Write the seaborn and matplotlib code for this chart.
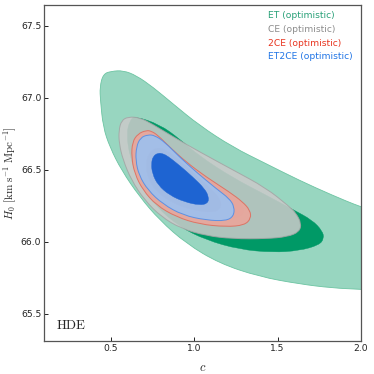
import numpy as np
import matplotlib
matplotlib.use("Agg")
import matplotlib.pyplot as plt
from matplotlib.path import Path
from matplotlib.patches import PathPatch
import seaborn as sns

# ---------------- data (contour outlines) ----------------
labels = ["ET (optimistic)", "CE (optimistic)", "2CE (optimistic)", "ET2CE (optimistic)"]
label_colors = ["#27a077", "#8c8c8c", "#e8341f", "#1f74e6"]

et95_c = [0.504, 0.454, 0.434, 0.438, 0.454, 0.494, 0.564, 0.673, 0.793, 0.952, 1.151, 1.39, 1.63, 1.829, 1.996, 2.3,
          2.3, 1.996, 1.829, 1.63, 1.43, 1.231, 1.032, 0.873, 0.753, 0.653, 0.574]
et95_h = [67.185, 67.166, 67.074, 66.98, 66.797, 66.658, 66.497, 66.312, 66.15, 65.988, 65.85, 65.758, 65.707, 65.679, 65.67, 65.65,
          66.12, 66.243, 66.323, 66.427, 66.543, 66.658, 66.808, 66.958, 67.074, 67.155, 67.19]

et68_c = [0.643, 0.793, 0.912, 1.032, 1.231, 1.43, 1.59, 1.709, 1.769, 1.779, 1.749, 1.63, 1.47, 1.271, 1.072, 0.912,
          0.773, 0.673, 0.614, 0.594, 0.614]
et68_h = [66.873, 66.815, 66.715, 66.595, 66.445, 66.325, 66.225, 66.15, 66.075, 66.023, 65.977, 65.938, 65.926, 65.947,
          66.012, 66.104, 66.243, 66.404, 66.589, 66.75, 66.843]

ce95_c = [0.604, 0.564, 0.548, 0.55, 0.574, 0.624, 0.703, 0.803, 0.922, 1.072, 1.231, 1.43, 1.56, 1.63, 1.643, 1.61,
          1.57, 1.43, 1.231, 1.032, 0.873, 0.753, 0.673]
ce95_h = [66.868, 66.843, 66.774, 66.681, 66.566, 66.427, 66.289, 66.173, 66.092, 66.042, 66.021, 66.021, 66.035, 66.069,
          66.127, 66.2, 66.245, 66.375, 66.5, 66.625, 66.73, 66.815, 66.863]

ce68_c = [0.763, 0.703, 0.683, 0.703, 0.763, 0.863, 0.992, 1.131, 1.251, 1.301, 1.291, 1.231, 1.112, 0.992, 0.892, 0.823]
ce68_h = [66.693, 66.647, 66.554, 66.45, 66.346, 66.254, 66.196, 66.162, 66.162, 66.196, 66.254, 66.312, 66.404, 66.508,
          66.612, 66.677]

ce2_95_c = [0.713, 0.663, 0.629, 0.624, 0.643, 0.693, 0.773, 0.892, 1.032, 1.191, 1.301, 1.341, 1.335, 1.291, 1.211,
            1.072, 0.952, 0.853, 0.783, 0.743]
ce2_95_h = [66.774, 66.751, 66.693, 66.589, 66.473, 66.358, 66.254, 66.173, 66.122, 66.104, 66.115, 66.162, 66.219,
            66.277, 66.346, 66.45, 66.554, 66.658, 66.739, 66.769]

ce2_68_c = [0.773, 0.723, 0.709, 0.723, 0.773, 0.873, 0.992, 1.112, 1.161, 1.161, 1.112, 1.012, 0.912, 0.833]
ce2_68_h = [66.658, 66.612, 66.531, 66.439, 66.346, 66.266, 66.219, 66.201, 66.231, 66.289, 66.358, 66.462, 66.566, 66.64]

et2ce95_c = [0.723, 0.677, 0.653, 0.649, 0.669, 0.723, 0.813, 0.932, 1.072, 1.191, 1.237, 1.241, 1.211, 1.131, 1.012,
             0.912, 0.823, 0.763]
et2ce95_h = [66.744, 66.723, 66.658, 66.566, 66.462, 66.358, 66.261, 66.185, 66.15, 66.145, 66.178, 66.243, 66.3, 66.37,
             66.485, 66.589, 66.693, 66.739]

et2ce68_c = [0.783, 0.753, 0.743, 0.749, 0.783, 0.853, 0.942, 1.032, 1.082, 1.088, 1.062, 0.992, 0.912, 0.843, 0.813]
et2ce68_h = [66.617, 66.594, 66.543, 66.473, 66.393, 66.323, 66.277, 66.254, 66.266, 66.312, 66.37, 66.45, 66.531,
             66.594, 66.612]

x_ticks = [0.5, 1.0, 1.5, 2.0]
y_ticks = [65.5, 66.0, 66.5, 67.0, 67.5]

# ---------------- style ----------------
sns.set_theme(style="ticks")
plt.rcParams["font.family"] = ["DejaVu Sans"]
plt.rcParams["mathtext.fontset"] = "cm"

fig = plt.figure(figsize=(3.74, 3.74), dpi=100)
ax = fig.add_axes([0.118, 0.088, 0.847, 0.899])


def smooth_patch(cs, hs, face, edge, alpha=1.0, lw=0.6, z=1):
    pts = np.column_stack([cs, hs])
    n = len(pts)
    mids = (pts + np.roll(pts, -1, axis=0)) / 2.0
    verts = [mids[-1]]
    codes = [Path.MOVETO]
    for i in range(n):
        verts += [pts[i], mids[i]]
        codes += [Path.CURVE3, Path.CURVE3]
    verts.append(mids[-1])
    codes.append(Path.CLOSEPOLY)
    p = PathPatch(Path(verts, codes), facecolor=face, edgecolor=edge, alpha=alpha, lw=lw, zorder=z)
    ax.add_patch(p)


smooth_patch(et95_c, et95_h, "#98d6c0", "#6cc4a2", 1.0, 0.6, 1)
smooth_patch(et68_c, et68_h, "#009966", "#009966", 1.0, 0.3, 2)
smooth_patch(ce95_c, ce95_h, "#cacaca", "#a4a4a4", 0.87, 0.7, 3)
smooth_patch(ce68_c, ce68_h, "#b4b4b4", "#b4b4b4", 0.87, 0.3, 4)
smooth_patch(ce2_95_c, ce2_95_h, "#eea499", "#e06858", 0.85, 0.7, 5)
smooth_patch(ce2_68_c, ce2_68_h, "#d89088", "#d89088", 0.85, 0.3, 6)
smooth_patch(et2ce95_c, et2ce95_h, "#98c3f5", "#4a8ae8", 0.85, 0.7, 7)
smooth_patch(et2ce68_c, et2ce68_h, "#1e64d2", "#1e64d2", 1.0, 0.3, 8)

ax.set_xlim(0.1, 2.0)
ax.set_ylim(65.31, 67.646)
ax.set_xticks(x_ticks)
ax.set_yticks(y_ticks)
ax.tick_params(direction="in", length=3, width=0.7, labelsize=6.6, colors="#222222", pad=2)
for s in ax.spines.values():
    s.set_color("#555555")
    s.set_linewidth(0.9)

ax.set_xlabel(r"$c$", fontsize=9, labelpad=6)
ax.set_ylabel(r"$H_0\ [\mathrm{km\ s^{-1}\ Mpc^{-1}}]$", fontsize=8)
ax.yaxis.set_label_coords(-0.079, 0.5)

ax.text(0.038, 0.028, r"$\mathrm{HDE}$", transform=ax.transAxes, fontsize=9.5, ha="left", va="bottom")

ys = [0.967, 0.926, 0.885, 0.845]
for lab, col, yy in zip(labels, label_colors, ys):
    ax.text(0.707, yy, lab, color=col, fontsize=6.6, transform=ax.transAxes, ha="left", va="center")

fig.savefig("out.png", dpi=100)
